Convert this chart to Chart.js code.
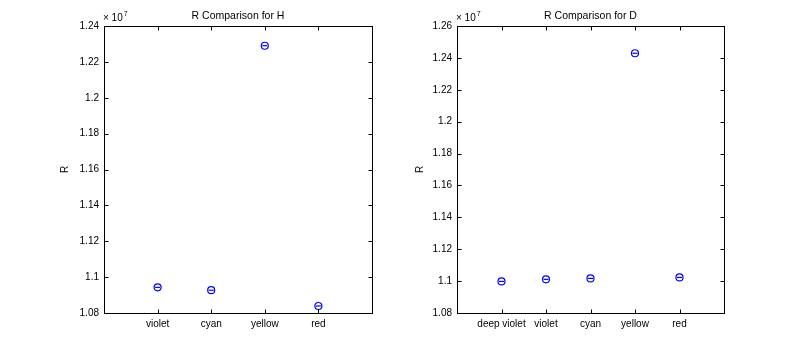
<!DOCTYPE html>
<html>
<head>
<meta charset="utf-8">
<script src="https://cdn.jsdelivr.net/npm/chart.js@4"></script>
<style>
  body { margin: 0; background: #fff; }
  #wrap { position: relative; width: 800px; height: 353px; }
  canvas { position: absolute; top: 0; }
</style>
</head>
<body>
<div id="wrap">
  <canvas id="chartH" width="400" height="353" style="left:0"></canvas>
  <canvas id="chartD" width="400" height="353" style="left:400px"></canvas>
</div>
<script>
// values are R, in units of 1 (axis shows them as x 10^7)
const categoriesH = ['violet', 'cyan', 'yellow', 'red'];
const valuesH = [1.0943e7, 1.0927e7, 1.2290e7, 1.0839e7];
const yTicksH = { min: 1.08e7, max: 1.24e7, step: 0.02e7 };

const categoriesD = ['deep violet', 'violet', 'cyan', 'yellow', 'red'];
const valuesD = [1.0998e7, 1.1011e7, 1.1017e7, 1.2429e7, 1.1023e7];
const yTicksD = { min: 1.08e7, max: 1.26e7, step: 0.02e7 };

const FONT = 'Liberation Sans, Arial, Helvetica, sans-serif';
const BLUE = '#0000ff';

// MATLAB-ish box with inward ticks, title and exponent label
const framePlugin = {
  id: 'frame',
  afterDraw(chart, args, opts) {
    const { ctx, chartArea: a, scales } = chart;
    const tl = 4;
    ctx.save();
    ctx.strokeStyle = '#000';
    ctx.lineWidth = 1;
    const L = Math.round(a.left) + 0.5, R = Math.round(a.right) + 0.5;
    const T = Math.round(a.top) + 0.5, B = Math.round(a.bottom) + 0.5;
    ctx.strokeRect(L, T, R - L, B - T);
    ctx.beginPath();
    scales.y.ticks.forEach(t => {
      const y = Math.round(scales.y.getPixelForValue(t.value)) + 0.5;
      ctx.moveTo(L, y); ctx.lineTo(L + tl, y);
      ctx.moveTo(R, y); ctx.lineTo(R - tl, y);
    });
    opts.categories.forEach((c, i) => {
      const x = Math.round(scales.x.getPixelForValue(i + 1)) + 0.5;
      ctx.moveTo(x, B); ctx.lineTo(x, B - tl);
      ctx.moveTo(x, T); ctx.lineTo(x, T + tl);
    });
    ctx.stroke();

    ctx.fillStyle = '#000';
    ctx.font = '10.5px ' + FONT;
    ctx.textAlign = 'center';
    ctx.textBaseline = 'alphabetic';
    ctx.fillText(opts.title, (a.left + a.right) / 2, 19);

    ctx.textAlign = 'left';
    ctx.font = '10px ' + FONT;
    ctx.fillText('\u00d7 10', a.left - 1, 21);
    const w = ctx.measureText('\u00d7 10').width;
    ctx.font = '7px ' + FONT;
    ctx.fillText('7', a.left - 1 + w + 1, 16);
    ctx.restore();
  }
};

function makeChart(id, categories, values, yTicks, title, pad, yWidth) {
  const points = values.map((v, i) => ({ x: i + 1, y: v }));
  return new Chart(document.getElementById(id), {
    type: 'scatter',
    data: {
      datasets: [
        {
          data: points,
          pointStyle: 'circle',
          pointRadius: 3.5,
          pointBorderWidth: 1.2,
          pointBorderColor: BLUE,
          pointBackgroundColor: 'rgba(0,0,0,0)'
        },
        {
          data: points,
          pointStyle: 'line',
          pointRadius: 2.5,
          pointBorderWidth: 1.2,
          pointBorderColor: BLUE
        }
      ]
    },
    options: {
      responsive: false,
      animation: false,
      layout: { padding: pad },
      plugins: {
        legend: { display: false },
        tooltip: { enabled: false },
        frame: { categories: categories, title: title }
      },
      scales: {
        x: {
          type: 'linear',
          min: 0,
          max: categories.length + 1,
          grid: { display: false, drawTicks: false },
          border: { display: false },
          afterFit: s => { s.height = 40; },
          ticks: {
            stepSize: 1,
            autoSkip: false,
            maxRotation: 0,
            padding: 5,
            color: '#000',
            font: { family: FONT, size: 10 },
            callback: v => categories[v - 1] || ''
          }
        },
        y: {
          min: yTicks.min,
          max: yTicks.max,
          grid: { display: false, drawTicks: false },
          border: { display: false },
          afterFit: s => { s.width = yWidth; },
          title: {
            display: true,
            text: 'R',
            color: '#000',
            font: { family: FONT, size: 10 },
            padding: 0
          },
          ticks: {
            stepSize: yTicks.step,
            autoSkip: false,
            padding: 5,
            color: '#000',
            font: { family: FONT, size: 10 },
            callback: v => String(parseFloat((v / 1e7).toFixed(2)))
          }
        }
      }
    },
    plugins: [framePlugin]
  });
}

makeChart('chartH', categoriesH, valuesH, yTicksH, 'R Comparison for H',
  { left: 59, top: 26, right: 28, bottom: 0 }, 45);
makeChart('chartD', categoriesD, valuesD, yTicksD, 'R Comparison for D',
  { left: 14, top: 26, right: 76, bottom: 0 }, 43);
</script>
</body>
</html>
